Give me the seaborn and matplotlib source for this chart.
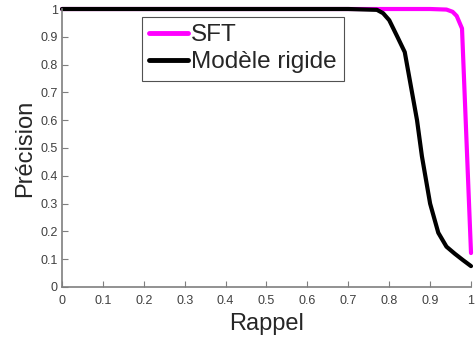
import numpy as np
import pandas as pd
import matplotlib
matplotlib.use("Agg")
import matplotlib.pyplot as plt
import seaborn as sns

# Data
sft_recall = [0.0, 0.90, 0.94, 0.955, 0.965, 0.978, 1.0]
sft_precision = [1.0, 1.0, 0.998, 0.99, 0.975, 0.93, 0.122]
rig_recall = [0.0, 0.70, 0.77, 0.785, 0.80, 0.82, 0.838, 0.868, 0.88, 0.90, 0.92, 0.94, 0.96, 0.98, 1.0]
rig_precision = [1.0, 1.0, 0.997, 0.985, 0.96, 0.90, 0.845, 0.60, 0.47, 0.30, 0.195, 0.145, 0.12, 0.097, 0.075]
series_names = ["SFT", "Modèle rigide"]
xticks = [0, 0.1, 0.2, 0.3, 0.4, 0.5, 0.6, 0.7, 0.8, 0.9, 1]
xtick_labels = ["0", "0.1", "0.2", "0.3", "0.4", "0.5", "0.6", "0.7", "0.8", "0.9", "1"]
yticks = [0, 0.1, 0.2, 0.3, 0.4, 0.5, 0.6, 0.7, 0.8, 0.9, 1]
ytick_labels = ["0", "0.1", "0.2", "0.3", "0.4", "0.5", "0.6", "0.7", "0.8", "0.9", "1"]

df = pd.concat([
    pd.DataFrame({"Rappel": sft_recall, "Précision": sft_precision, "Méthode": series_names[0]}),
    pd.DataFrame({"Rappel": rig_recall, "Précision": rig_precision, "Méthode": series_names[1]}),
], ignore_index=True)

sns.set_theme(style="white")
plt.rcParams["font.family"] = ["Liberation Sans", "DejaVu Sans"]

fig = plt.figure(figsize=(4.75, 3.4), dpi=100)
ax = fig.add_axes([0.1305, 0.156, 0.8611, 0.8175])

sns.lineplot(data=df, x="Rappel", y="Précision", hue="Méthode", sort=False,
             palette={series_names[0]: "#ff00ff", series_names[1]: "#000000"},
             linewidth=3, ax=ax, estimator=None, clip_on=False)

ax.set_xlim(0, 1)
ax.set_ylim(0, 1)
ax.set_xticks(xticks)
ax.set_xticklabels(xtick_labels)
ax.set_yticks(yticks)
ax.set_yticklabels(ytick_labels)
ax.tick_params(axis="both", direction="in", length=4, width=0.8, color="#7f7f7f",
               labelsize=9, labelcolor="#404040", bottom=True, left=True)
ax.tick_params(axis="x", pad=6)
ax.tick_params(axis="y", pad=3)
for s in ["top", "right"]:
    ax.spines[s].set_visible(False)
for s in ["left", "bottom"]:
    ax.spines[s].set_color("#7f7f7f")
    ax.spines[s].set_linewidth(1.2)

ax.set_xlabel("Rappel", fontsize=17, color="#262626", labelpad=4)
ax.set_ylabel("Précision", fontsize=17, color="#262626", labelpad=3)

leg = ax.legend(loc="upper left", bbox_to_anchor=(0.196, 0.971), fontsize=17.5,
                frameon=True, fancybox=False, edgecolor="#262626", title=None,
                handlelength=1.6, handletextpad=0.1, borderpad=0.3,
                labelspacing=0.2, borderaxespad=0)
leg.get_frame().set_linewidth(0.8)
for line in leg.get_lines():
    line.set_linewidth(3.5)

fig.savefig("out.png", dpi=100)
